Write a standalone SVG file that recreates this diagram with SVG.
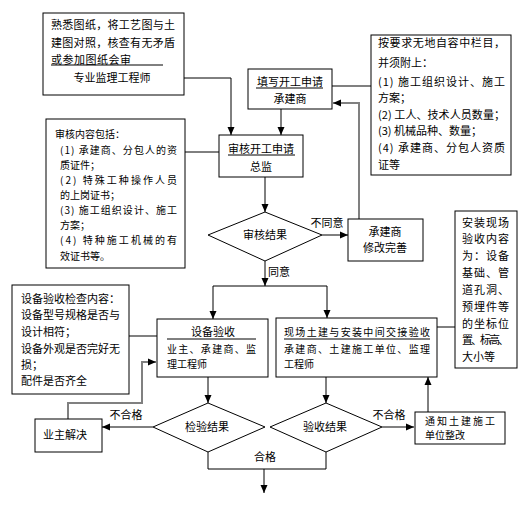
<svg xmlns="http://www.w3.org/2000/svg" width="519" height="508" viewBox="0 0 519 508">
<style>
.b{fill:#fff;stroke:#000;stroke-width:1}
.t{font-family:"Noto Sans CJK SC","Liberation Sans",sans-serif;font-size:11px;fill:#000}
.s{font-size:10px}
.c{text-anchor:middle}
.k{fill:none;stroke:#000;stroke-width:1}
.g{fill:none;stroke:#808080;stroke-width:2}
.u{stroke:#000;stroke-width:1}
</style>
<defs>
<marker id="a" viewBox="0 0 8 8" refX="8" refY="4" markerWidth="8" markerHeight="8" markerUnits="userSpaceOnUse" orient="auto"><path d="M0,0.5L8,4L0,7.5z" fill="#000"/></marker>
</defs>
<rect width="519" height="508" fill="#fff"/>
<g id="connectors">
<path class="k" d="M184,78H231V135" marker-end="url(#a)"/>
<path class="k" d="M281,109V135" marker-end="url(#a)"/>
<path class="g" d="M332,86H371"/>
<path class="g" d="M359,219V103H333" marker-end="url(#a)"/>
<path class="k" d="M185,152H219"/>
<path class="k" d="M265,177V212" marker-end="url(#a)"/>
<path class="k" d="M322,235H348" marker-end="url(#a)"/>
<path class="k" d="M265,261V286" marker-end="url(#a)"/>
<path class="k" d="M213,286H327"/>
<path class="k" d="M213,286V319" marker-end="url(#a)"/>
<path class="k" d="M327,286V318" marker-end="url(#a)"/>
<path class="k" d="M437,327H455"/>
<path class="g" d="M129,336H157"/>
<path class="k" d="M208,377V403" marker-end="url(#a)"/>
<path class="k" d="M326,377V403" marker-end="url(#a)"/>
<path class="k" d="M153,427H102" marker-end="url(#a)"/>
<path class="g" d="M68,419V403H142V362H156" marker-end="url(#a)"/>
<path class="g" d="M382,427H414" marker-end="url(#a)"/>
<path class="k" d="M428,412V377" marker-end="url(#a)"/>
<path class="k" d="M208,452V469H326V452"/>
<path class="k" d="M264,469V493" marker-end="url(#a)"/>
<text class="t c" x="327" y="227">不同意</text>
<text class="t" x="268" y="276">同意</text>
<text class="t c" x="126" y="419">不合格</text>
<text class="t c" x="389" y="419">不合格</text>
<text class="t c" x="265" y="461">合格</text>
</g>
<g id="n1">
<rect class="b" x="43" y="13" width="141" height="82"/>
<text class="t" x="51" y="29" textLength="124" lengthAdjust="spacing">熟悉图纸，将工艺图与土</text>
<text class="t" x="51" y="47" textLength="124" lengthAdjust="spacing">建图对照，核查有无矛盾</text>
<text class="t" x="51" y="64" textLength="80" lengthAdjust="spacing">或参加图纸会审</text>
<line class="u" x1="51" y1="65" x2="163" y2="65"/>
<text class="t c" x="112" y="82">专业监理工程师</text>
</g>
<g id="n2">
<rect class="b" x="248" y="69" width="84" height="40"/>
<text class="t c" x="290" y="86">填写开工申请</text>
<line class="u" x1="256" y1="88" x2="323" y2="88"/>
<text class="t c" x="290" y="103">承建商</text>
</g>
<g id="n3">
<rect class="b" x="371" y="35" width="140" height="140"/>
<text class="t" x="378" y="47" textLength="127" lengthAdjust="spacing">按要求无地自容中栏目，</text>
<text class="t" x="378" y="67">并须附上：</text>
<text class="t" x="378" y="86" textLength="127" lengthAdjust="spacing">(1) 施工组织设计、施工</text>
<text class="t" x="378" y="102">方案；</text>
<text class="t" x="378" y="119" textLength="127" lengthAdjust="spacing">(2) 工人、技术人员数量；</text>
<text class="t" x="378" y="135">(3) 机械品种、数量；</text>
<text class="t" x="378" y="152" textLength="127" lengthAdjust="spacing">(4) 承建商、分包人资质</text>
<text class="t" x="378" y="169">证等</text>
</g>
<g id="n4">
<rect class="b" x="219" y="135" width="84" height="42"/>
<text class="t c" x="261" y="153">审核开工申请</text>
<line class="u" x1="228" y1="155" x2="295" y2="155"/>
<text class="t c" x="261" y="171">总监</text>
</g>
<g id="n5">
<rect class="b" x="46" y="119" width="139" height="149"/>
<text class="t s" x="55" y="138">审核内容包括：</text>
<text class="t s" x="60" y="154" textLength="117" lengthAdjust="spacing">(1) 承建商、分包人的资</text>
<text class="t s" x="60" y="169">质证件；</text>
<text class="t s" x="60" y="184" textLength="117" lengthAdjust="spacing">(2) 特殊工种操作人员</text>
<text class="t s" x="60" y="199">的上岗证书；</text>
<text class="t s" x="60" y="214" textLength="117" lengthAdjust="spacing">(3) 施工组织设计、施工</text>
<text class="t s" x="60" y="229">方案；</text>
<text class="t s" x="60" y="244" textLength="117" lengthAdjust="spacing">(4) 特种施工机械的有</text>
<text class="t s" x="60" y="260">效证书等。</text>
</g>
<g id="n6">
<polygon class="b" points="208,235 265,212 322,235 265,261"/>
<text class="t c" x="265" y="239">审核结果</text>
</g>
<g id="n7">
<rect class="b" x="348" y="219" width="75" height="42"/>
<text class="t c" x="385" y="236">承建商</text>
<text class="t c" x="385" y="252">修改完善</text>
</g>
<g id="n8">
<rect class="b" x="455" y="211" width="62" height="157"/>
<text class="t" x="462" y="227" textLength="47" lengthAdjust="spacing">安装现场</text>
<text class="t" x="462" y="243" textLength="47" lengthAdjust="spacing">验收内容</text>
<text class="t" x="462" y="260" textLength="47" lengthAdjust="spacing">为：设备</text>
<text class="t" x="462" y="277" textLength="47" lengthAdjust="spacing">基础、管</text>
<text class="t" x="462" y="294" textLength="47" lengthAdjust="spacing">道孔洞、</text>
<text class="t" x="462" y="311" textLength="47" lengthAdjust="spacing">预埋件等</text>
<text class="t" x="462" y="328" textLength="47" lengthAdjust="spacing">的坐标位</text>
<text class="t" x="462" y="344" textLength="47" lengthAdjust="spacing">置、标高、</text>
<text class="t" x="462" y="361">大小等</text>
</g>
<g id="n9">
<rect class="b" x="12" y="285" width="117" height="109"/>
<text class="t" x="21" y="303">设备验收检查内容：</text>
<text class="t" x="21" y="319" textLength="99" lengthAdjust="spacing">设备型号规格是否与</text>
<text class="t" x="21" y="336">设计相符；</text>
<text class="t" x="21" y="353" textLength="99" lengthAdjust="spacing">设备外观是否完好无</text>
<text class="t" x="21" y="369">损；</text>
<text class="t" x="21" y="385">配件是否齐全</text>
</g>
<g id="n10">
<rect class="b" x="157" y="319" width="111" height="58"/>
<text class="t" x="213" y="336" text-anchor="middle">设备验收</text>
<line class="u" x1="167" y1="339" x2="256" y2="339"/>
<text class="t s" x="167" y="353" textLength="89" lengthAdjust="spacing">业主、承建商、监</text>
<text class="t s" x="167" y="368">理工程师</text>
</g>
<g id="n11">
<rect class="b" x="276" y="318" width="161" height="59"/>
<text class="t s" x="284" y="336" textLength="146" lengthAdjust="spacing">现场土建与安装中间交接验收</text>
<line class="u" x1="284" y1="339" x2="430" y2="339"/>
<text class="t s" x="284" y="353" textLength="146" lengthAdjust="spacing">承建商、土建施工单位、监理</text>
<text class="t s" x="284" y="368">工程师</text>
</g>
<g id="n12">
<polygon class="b" points="153,427 208,403 265,427 208,452"/>
<text class="t c" x="207" y="431">检验结果</text>
</g>
<g id="n13">
<polygon class="b" points="270,427 326,403 382,427 326,452"/>
<text class="t c" x="325" y="431">验收结果</text>
</g>
<g id="n14">
<rect class="b" x="35" y="419" width="67" height="33"/>
<text class="t c" x="65" y="439">业主解决</text>
</g>
<g id="n15">
<rect class="b" x="415" y="412" width="90" height="32"/>
<text class="t s" x="425" y="425" textLength="70" lengthAdjust="spacing">通知土建施工</text>
<text class="t s" x="425" y="439">单位整改</text>
</g>
</svg>
